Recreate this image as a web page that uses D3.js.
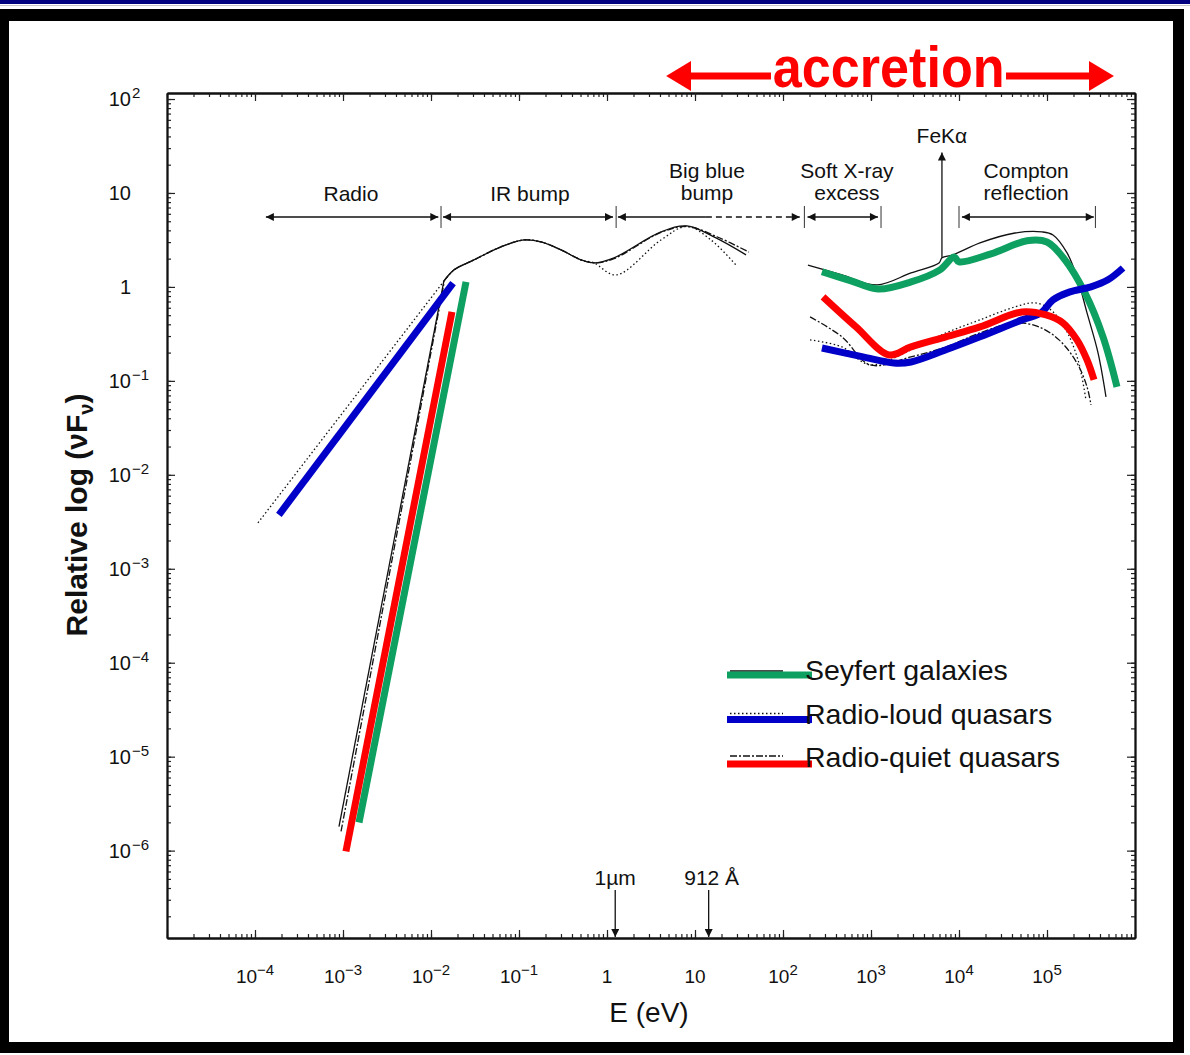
<!DOCTYPE html>
<html>
<head>
<meta charset="utf-8">
<script src="https://cdn.jsdelivr.net/npm/d3@7"></script>
<style>
body { margin: 0; background: #fff; }
svg text { font-family: "Liberation Sans", Arial, sans-serif; }
</style>
</head>
<body>
<svg id="chart" width="1190" height="1055"></svg>
<script>
// ---- data (E in eV, relative nuFnu) ----
var xLabelTicks = [1e-4, 1e-3, 1e-2, 1e-1, 1, 10, 1e2, 1e3, 1e4, 1e5];
var yLabelTicks = [1e2, 10, 1, 1e-1, 1e-2, 1e-3, 1e-4, 1e-5, 1e-6];

// original thin black curves
var seyfertRadioThin = [[9.0e-4, 1.8e-6], [0.0140, 1.15]];
var loudRadioThin = [[1.08e-4, 3.08e-3], [0.0140, 1.15]];
var quietRadioThin = [[9.5e-4, 1.6e-6], [0.0141, 1.12]];
var irBump = [[0.0140, 1.15], [0.0183, 1.52], [0.0308, 1.94], [0.0624, 2.67], [0.114, 3.16],
  [0.178, 3.01], [0.30, 2.48], [0.507, 1.94], [0.711, 1.80]];
var seyfertUV = [[1.2, 2.04], [4.1, 3.85], [8.1, 4.46], [17.3, 3.32], [38, 2.19]];
var loudUV = [[1.27, 1.34], [4.1, 3.16], [8.1, 4.4], [15.2, 3.16], [29.2, 1.71]];
var quietUV = [[1.2, 2.0], [4.1, 3.8], [8.1, 4.4], [18, 3.4], [41, 2.35]];
var seyfertXrayThin = [[192, 1.71], [468, 1.34], [1170, 1.05], [2850, 1.41], [5930, 1.80], [6410, 2.04],
  [8550, 2.19], [17300, 2.94], [43300, 3.75], [87700, 3.85], [117000, 3.57], [169000, 2.30],
  [219000, 1.28], [285000, 0.529], [380000, 0.199], [468000, 0.0676]];
var loudXrayThin = [[203, 0.273], [468, 0.230], [975, 0.148], [2850, 0.214], [7110, 0.324], [17300, 0.446],
  [43300, 0.613], [73100, 0.676], [111000, 0.569], [164000, 0.349], [225000, 0.167], [277000, 0.0628]];
var quietXrayThin = [[203, 0.48], [468, 0.294], [975, 0.148], [2850, 0.18], [7110, 0.23], [17300, 0.324],
  [43300, 0.414], [81100, 0.375], [137000, 0.273], [219000, 0.155], [285000, 0.0863], [316000, 0.0556]];

// thick coloured overlays
var seyfertRadio = [[1.52e-3, 1.99e-6], [0.025, 1.13]];
var seyfertXray = [[277, 1.45], [593, 1.16], [1200, 0.95], [2850, 1.13], [6080, 1.52], [8770, 2.08],
  [10000, 1.85], [23100, 2.25], [59300, 3.10], [100000, 3.01], [160000, 1.94], [270000, 0.863],
  [433000, 0.294], [624000, 0.0863]];
var loudRadio = [[1.87e-4, 3.75e-3], [0.0178, 1.10]];
var loudXray = [[277, 0.224], [811, 0.18], [1820, 0.155], [2850, 0.159], [7110, 0.214], [17300, 0.294],
  [52000, 0.446], [85500, 0.529], [117000, 0.727], [182000, 0.885], [316000, 1.0], [493000, 1.19],
  [731000, 1.59]];
var quietRadio = [[1.08e-3, 9.8e-7], [0.0173, 0.542]];
var quietXray = [[285, 0.783], [676, 0.375], [1600, 0.189], [2850, 0.230], [7110, 0.294], [17300, 0.375],
  [52000, 0.542], [97500, 0.504], [152000, 0.414], [219000, 0.273], [285000, 0.167], [342000, 0.1026]];

var legendNames = ["Seyfert galaxies", "Radio-loud quasars", "Radio-quiet quasars"];
var seriesColors = ["#0ea060", "#0000c8", "#ff0000"];
var seriesDash = [null, "1.5,2.5", "7,2,2,2"];

// ---- scales ----
var svg = d3.select("#chart");
var x = d3.scaleLog().domain([1e-5, 1e6]).range([167, 1135]);
var y = d3.scaleLog().domain([Math.pow(10, -6.93), Math.pow(10, 2.064)]).range([938, 93]);

// frame
svg.append("rect").attr("x", 0).attr("y", 0).attr("width", 1190).attr("height", 4).attr("fill", "#000080");
svg.append("rect").attr("x", 0).attr("y", 5).attr("width", 1190).attr("height", 1).attr("fill", "#c8c8c8");
svg.append("rect").attr("x", 0).attr("y", 9).attr("width", 1184).attr("height", 12).attr("fill", "#000");
svg.append("rect").attr("x", 0).attr("y", 9).attr("width", 9).attr("height", 1044).attr("fill", "#000");
svg.append("rect").attr("x", 1173).attr("y", 9).attr("width", 11).attr("height", 1044).attr("fill", "#000");
svg.append("rect").attr("x", 0).attr("y", 1042).attr("width", 1184).attr("height", 11).attr("fill", "#000");

// ---- axes (ticks inward on all four sides) ----
function logTicks(scale, every) {
  var d = scale.domain(), out = [];
  var lo = Math.floor(Math.log10(d[0])), hi = Math.ceil(Math.log10(d[1]));
  for (var e = lo; e <= hi; e++) {
    for (var k = 1; k <= 9; k++) {
      if (every === false && k !== 1) continue;
      var v = k * Math.pow(10, e);
      if (v >= d[0] * 0.999 && v <= d[1] * 1.001) out.push(v);
    }
  }
  return out;
}
var xMinor = logTicks(x, true), xMajor = logTicks(x, false);
var yMinor = logTicks(y, true), yMajor = logTicks(y, false);

function addAxis(axisFn, scale, vals, size, tr) {
  var g = svg.append("g").attr("transform", tr)
    .call(axisFn(scale).tickValues(vals).tickSize(size).tickSizeOuter(0).tickFormat(""));
  g.selectAll("path.domain").attr("stroke", "#111").attr("stroke-width", 1.8);
  g.selectAll(".tick line").attr("stroke", "#222").attr("stroke-width", 1.2);
}
addAxis(d3.axisBottom, x, xMinor, -4, "translate(0,938)");
addAxis(d3.axisBottom, x, xMajor, -8, "translate(0,938)");
addAxis(d3.axisTop, x, xMinor, -4, "translate(0,93)");
addAxis(d3.axisTop, x, xMajor, -8, "translate(0,93)");
addAxis(d3.axisLeft, y, yMinor, -4, "translate(167,0)");
addAxis(d3.axisLeft, y, yMajor, -8, "translate(167,0)");
addAxis(d3.axisRight, y, yMinor, -4, "translate(1135,0)");
addAxis(d3.axisRight, y, yMajor, -8, "translate(1135,0)");

function expOf(v) { return Math.round(Math.log10(v)); }
function supText(e) { return e < 0 ? "\u2212" + (-e) : String(e); }

// x tick labels
xLabelTicks.forEach(function(v) {
  var e = expOf(v);
  var t = svg.append("text").attr("x", x(v)).attr("y", 983)
    .attr("text-anchor", "middle").attr("font-size", 19).attr("fill", "#111");
  if (e === 0) t.text("1");
  else if (e === 1) t.text("10");
  else {
    t.append("tspan").text("10");
    t.append("tspan").attr("dy", -8).attr("font-size", 15).text(supText(e));
  }
});

// y tick labels
yLabelTicks.forEach(function(v) {
  var e = expOf(v);
  svg.append("text").attr("x", 131).attr("y", y(v) + 7)
    .attr("text-anchor", "end").attr("font-size", 20).attr("fill", "#111")
    .text(e === 0 ? "1" : "10");
  if (e !== 0 && e !== 1) {
    svg.append("text").attr("x", 132).attr("y", y(v) - 1)
      .attr("font-size", 15).attr("fill", "#111").text(supText(e));
  }
});

// axis titles
svg.append("text").attr("x", 649).attr("y", 1022).attr("text-anchor", "middle")
  .attr("font-size", 28).attr("fill", "#111").text("E (eV)");
var yt = svg.append("text").attr("transform", "translate(87,515) rotate(-90)")
  .attr("text-anchor", "middle").attr("font-size", 30).attr("font-weight", "bold").attr("fill", "#111");
yt.append("tspan").text("Relative log (\u03bdF");
yt.append("tspan").attr("dy", 6).attr("font-size", 20).text("\u03bd");
yt.append("tspan").attr("dy", -6).text(")");

// ---- markers ----
var defs = svg.append("defs");
defs.append("marker").attr("id", "ah").attr("viewBox", "0 0 10 10").attr("refX", 10).attr("refY", 5)
  .attr("markerUnits", "userSpaceOnUse").attr("markerWidth", 10).attr("markerHeight", 8)
  .attr("orient", "auto-start-reverse")
  .append("path").attr("d", "M0,0L10,5L0,10z").attr("fill", "#111");

// ---- band annotations ----
var bandY = y(5.55);
var bandNames = [["Radio"], ["IR bump"], ["Big blue", "bump"], ["Soft X-ray", "excess"], ["Compton", "reflection"]];
var bandTextE = [1.23e-3, 0.133, 13.7, 533, 5.8e4];
var bandStart = [1.33e-4, 0.0137, 1.33, 190, 1.08e4];
var bandEnd = [0.0121, 1.17, 155, 1200, 3.4e5];
var bandSeps = [0.013, 1.27, 175, 1300, 1.0e4, 3.55e5];
var bbbDashFrom = 13.3;

bandNames.forEach(function(lines, i) {
  var base = lines.length === 1 ? bandY - 16 : bandY - 39;
  lines.forEach(function(s, j) {
    svg.append("text").attr("x", x(bandTextE[i])).attr("y", base + j * 22)
      .attr("text-anchor", "middle").attr("font-size", 21).attr("fill", "#111").text(s);
  });
  if (i === 2) {
    svg.append("line").attr("x1", x(bandStart[i])).attr("x2", x(bbbDashFrom)).attr("y1", bandY).attr("y2", bandY)
      .attr("stroke", "#111").attr("stroke-width", 1.3).attr("marker-start", "url(#ah)");
    svg.append("line").attr("x1", x(bbbDashFrom)).attr("x2", x(bandEnd[i])).attr("y1", bandY).attr("y2", bandY)
      .attr("stroke", "#111").attr("stroke-width", 1.3).attr("stroke-dasharray", "6,4").attr("marker-end", "url(#ah)");
  } else {
    svg.append("line").attr("x1", x(bandStart[i])).attr("x2", x(bandEnd[i])).attr("y1", bandY).attr("y2", bandY)
      .attr("stroke", "#111").attr("stroke-width", 1.3)
      .attr("marker-start", "url(#ah)").attr("marker-end", "url(#ah)");
  }
});
bandSeps.forEach(function(v) {
  svg.append("line").attr("x1", x(v)).attr("x2", x(v)).attr("y1", bandY - 11).attr("y2", bandY + 11)
    .attr("stroke", "#333").attr("stroke-width", 1);
});

// FeK alpha line
var feE = 6400;
svg.append("line").attr("x1", x(feE)).attr("x2", x(feE)).attr("y1", y(2.04)).attr("y2", y(27))
  .attr("stroke", "#111").attr("stroke-width", 1.3).attr("marker-end", "url(#ah)");
svg.append("text").attr("x", x(feE)).attr("y", y(27) - 9).attr("text-anchor", "middle")
  .attr("font-size", 21).attr("fill", "#111").text("FeK\u03b1");

// 1 micron and Lyman limit markers
var markE = [1.24, 14.3];
var markNames = ["1\u00b5m", "912 \u00c5"];
markE.forEach(function(v, i) {
  svg.append("line").attr("x1", x(v)).attr("x2", x(v)).attr("y1", 890).attr("y2", 937)
    .attr("stroke", "#111").attr("stroke-width", 1.3).attr("marker-end", "url(#ah)");
  svg.append("text").attr("x", x(v) + (i === 0 ? 0 : 3)).attr("y", 885).attr("text-anchor", "middle")
    .attr("font-size", 21).attr("fill", "#111").text(markNames[i]);
});

// ---- curves ----
var smooth = d3.line().x(function(d) { return x(d[0]); }).y(function(d) { return y(d[1]); })
  .curve(d3.curveCatmullRom.alpha(0.5));
var straight = d3.line().x(function(d) { return x(d[0]); }).y(function(d) { return y(d[1]); });

var thin = [
  { radio: seyfertRadioThin, opt: irBump.concat(seyfertUV), xray: seyfertXrayThin, dash: seriesDash[0] },
  { radio: loudRadioThin, opt: irBump.concat(loudUV), xray: loudXrayThin, dash: seriesDash[1] },
  { radio: quietRadioThin, opt: irBump.concat(quietUV), xray: quietXrayThin, dash: seriesDash[2] }
];
thin.forEach(function(s) {
  var g = svg.append("g").attr("fill", "none").attr("stroke", "#111").attr("stroke-width", 1.3)
    .attr("stroke-dasharray", s.dash);
  g.append("path").attr("d", straight(s.radio));
  g.append("path").attr("d", smooth(s.opt));
  g.append("path").attr("d", smooth(s.xray));
});

var thick = [
  { radio: seyfertRadio, xray: seyfertXray },
  { radio: loudRadio, xray: loudXray },
  { radio: quietRadio, xray: quietXray }
];
thick.forEach(function(s, i) {
  var g = svg.append("g").attr("fill", "none").attr("stroke", seriesColors[i]).attr("stroke-width", 7)
    .attr("stroke-linejoin", "round");
  g.append("path").attr("d", straight(s.radio));
  g.append("path").attr("d", smooth(s.xray));
});

// ---- legend ----
legendNames.forEach(function(name, i) {
  var ly = 675 + i * 44.5;
  svg.append("line").attr("x1", 730).attr("x2", 783).attr("y1", ly - 4 - i * 2).attr("y2", ly - 4 - i * 2)
    .attr("stroke", "#111").attr("stroke-width", 1.3).attr("stroke-dasharray", seriesDash[i]);
  svg.append("line").attr("x1", 727).attr("x2", 812).attr("y1", ly).attr("y2", ly)
    .attr("stroke", seriesColors[i]).attr("stroke-width", 7);
  svg.append("text").attr("x", 805).attr("y", ly + 5 - i * 1).attr("font-size", 28.5).attr("fill", "#111").text(name);
});

// ---- accretion arrow ----
var accY = 76;
var accTextE = 1590, accLeft = [4.7, 9.0, 73], accRight = [34200, 3.0e5, 5.77e5];
svg.append("line").attr("x1", x(accLeft[1]) - 2).attr("x2", x(accLeft[2])).attr("y1", accY).attr("y2", accY)
  .attr("stroke", "#ff0000").attr("stroke-width", 7);
svg.append("line").attr("x1", x(accRight[0])).attr("x2", x(accRight[1]) + 2).attr("y1", accY).attr("y2", accY)
  .attr("stroke", "#ff0000").attr("stroke-width", 7);
svg.append("path").attr("fill", "#ff0000")
  .attr("d", "M" + x(accLeft[0]) + "," + accY + "L" + x(accLeft[1]) + "," + (accY - 15) + "L" + x(accLeft[1]) + "," + (accY + 15) + "Z");
svg.append("path").attr("fill", "#ff0000")
  .attr("d", "M" + x(accRight[2]) + "," + accY + "L" + x(accRight[1]) + "," + (accY - 15) + "L" + x(accRight[1]) + "," + (accY + 15) + "Z");
svg.append("text").attr("x", x(accTextE)).attr("y", 87).attr("text-anchor", "middle")
  .attr("font-size", 58).attr("font-weight", "bold").attr("fill", "#ff0000")
  .style("font-family", "'Liberation Sans Narrow', 'Liberation Sans', Arial, sans-serif")
  .attr("textLength", 232).attr("lengthAdjust", "spacingAndGlyphs")
  .text("accretion");
</script>
</body>
</html>
